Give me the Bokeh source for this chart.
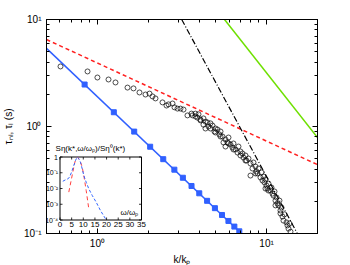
from bokeh.plotting import figure
from bokeh.models import Range1d, LogAxis, FixedTicker, LinearScale, LogScale, Label
from bokeh.embed import file_html
from bokeh.resources import INLINE

# ---------------- data ----------------
K_OBS = [0.605, 0.874, 1.00, 1.163, 1.279, 1.506, 1.634, 1.773, 1.924, 2.032, 2.117, 2.204,
         2.425, 2.561, 2.632, 2.779, 2.855, 2.974, 3.098, 3.227, 3.407, 3.598, 3.800, 3.958,
         4.068, 4.237, 4.474, 4.660,
         3.648, 3.800, 3.905, 4.068, 4.237, 4.354, 4.535, 4.660, 4.789, 4.921, 4.989, 5.127,
         5.268, 5.341, 5.488, 5.563, 5.716, 5.874, 5.954, 6.118, 6.287, 6.373, 6.548, 6.730,
         6.822, 7.010, 7.203, 7.302, 7.503, 7.607, 7.816, 8.032, 8.032, 8.253, 8.368, 8.597,
         8.717, 8.837, 8.959, 9.205, 9.331, 9.459, 9.590, 9.721, 9.854, 9.989, 10.13, 10.26,
         10.55, 10.69, 10.84, 10.99, 11.14, 11.29, 11.45, 11.60, 11.76, 11.92, 12.08, 12.08,
         12.25, 12.42, 12.59, 12.76, 13.11, 13.29, 13.48, 13.66, 13.85,
         4.354, 5.716, 5.954, 6.373, 7.010, 7.503, 8.597, 9.854, 10.26, 11.29, 5.341, 4.989]
TAU_OBS = [3.64, 3.27, 2.87, 2.75, 2.58, 2.31, 2.27, 2.08, 1.99, 2.03, 1.91, 1.83,
           1.68, 1.57, 1.61, 1.64, 1.51, 1.47, 1.47, 1.44, 1.27, 1.32, 1.24, 1.30,
           1.14, 1.19, 1.09, 1.07,
           1.27, 1.32, 1.21, 1.16, 1.04, 1.11, 1.00, 0.958, 1.02, 0.898, 0.879, 0.937,
           0.842, 0.898, 0.806, 0.709, 0.756, 0.709, 0.789, 0.679, 0.636, 0.694, 0.610, 0.571,
           0.650, 0.584, 0.559, 0.513, 0.536, 0.481, 0.502, 0.451, 0.348, 0.405, 0.461, 0.423,
           0.380, 0.364, 0.405, 0.334, 0.372, 0.313, 0.341, 0.300, 0.320, 0.281, 0.263, 0.293,
           0.252, 0.269, 0.236, 0.226, 0.247, 0.203, 0.217, 0.191, 0.183, 0.203, 0.164, 0.154,
           0.175, 0.144, 0.132, 0.151, 0.127, 0.119, 0.111, 0.124, 0.104,
           0.958, 0.650, 0.694, 0.610, 0.536, 0.481, 0.364, 0.263, 0.252, 0.183, 0.806, 0.958]

K_LIN = [0.84, 1.25, 1.65, 2.05, 2.45, 2.85, 3.2, 3.6, 4.0, 4.45, 4.95, 5.45, 5.95, 6.45, 6.9]
TAU_LIN = [2.468, 1.359, 0.896, 0.647, 0.495, 0.395, 0.332, 0.278, 0.2375, 0.202, 0.1725,
           0.149, 0.131, 0.116, 0.1048]
K_LIN_FIT = [0.5, 7.1]
TAU_LIN_FIT = [5.37, 0.1]

K_RED = [0.5, 20.0]
TAU_RED = [6.5, 0.44]
K_BLACK = [3.15, 15.2]
TAU_BLACK = [10.0, 0.1]
K_GREEN = [5.64, 20.0]
TAU_GREEN = [10.0, 0.79]

# inset spectrum
W_BLUE = [1.2, 2.36, 3.52, 4.21, 4.94, 5.93, 6.66, 7.39, 8.07, 8.80, 9.53, 10.22, 11.25,
          12.37, 13.83, 15.54, 17.39, 19.54]
S_BLUE = [0.0288, 0.0355, 0.0417, 0.0575, 0.107, 0.288, 0.603, 1.0, 0.776, 0.468, 0.178,
          0.0676, 0.0251, 0.00955, 0.00363, 0.00135, 0.000398, 0.000120]
W_RED = [3.78, 4.94, 5.93, 6.4, 6.96, 7.64, 8.80, 9.5, 10.22, 11.25, 12.37]
S_RED = [0.00589, 0.0417, 0.224, 0.48, 0.776, 0.977, 0.468, 0.24, 0.0676, 0.00741, 0.000513]

# ticks
X_MAJOR = [1, 10]
X_MINOR = [0.5, 0.6, 0.7, 0.8, 0.9, 2, 3, 4, 5, 6, 7, 8, 9, 20]
X_LABELS = {1: "10\u2070", 10: "10\u00b9"}
Y_MAJOR = [0.1, 1, 10]
Y_MINOR = [0.2, 0.3, 0.4, 0.5, 0.6, 0.7, 0.8, 0.9, 2, 3, 4, 5, 6, 7, 8, 9]
Y_LABELS = {0.1: "10\u207b\u00b9", 1: "10\u2070", 10: "10\u00b9"}
IW_TICKS = [0, 5, 10, 15, 20, 25, 30, 35]
IS_TICKS = [1e-4, 1e-3, 1e-2, 1e-1, 1]
IS_LABELS = ["10\u207b\u2074", "10\u207b\u00b3", "10\u207b\u00b2", "10\u207b\u00b9", "1"]

# ---------------- layout ----------------
FW, FH = 271, 214
FONT = "Liberation Sans"

p = figure(x_axis_type="log", y_axis_type="log",
           x_range=Range1d(0.5, 20), y_range=Range1d(0.1, 10),
           frame_width=FW, frame_height=FH,
           min_border_left=46, min_border_right=20, min_border_top=19, min_border_bottom=32,
           output_backend="svg", toolbar_location=None)
p.grid.visible = False
p.outline_line_color = "black"
p.background_fill_color = "white"
p.border_fill_color = "white"

xt = FixedTicker(ticks=X_MAJOR, minor_ticks=X_MINOR)
yt = FixedTicker(ticks=Y_MAJOR, minor_ticks=Y_MINOR)


def style(ax):
    ax.axis_line_color = "black"
    ax.major_tick_in = 5
    ax.major_tick_out = 0
    ax.minor_tick_in = 3
    ax.minor_tick_out = 0
    ax.major_tick_line_color = "black"
    ax.minor_tick_line_color = "black"
    ax.major_label_text_font = FONT
    ax.major_label_text_font_size = "10px"
    ax.major_label_text_color = "black"
    ax.axis_label_text_font = FONT
    ax.axis_label_text_font_size = "10px"
    ax.axis_label_text_font_style = "normal"
    ax.axis_label_text_color = "black"


xa = p.xaxis[0]
xa.ticker = xt
xa.major_label_overrides = X_LABELS
xa.axis_label = "k/k\u209a"
style(xa)
xa.major_label_standoff = 4
xa.axis_label_standoff = 2

ya = p.yaxis[0]
ya.ticker = yt
ya.major_label_overrides = Y_LABELS
ya.axis_label = "\u03c4\u2099\u2097, \u03c4\u2097 (s)"
style(ya)
ya.major_label_standoff = 5
ya.axis_label_standoff = 7

ra = LogAxis(ticker=yt, major_label_overrides={t: "" for t in Y_MAJOR})
style(ra)
ra.major_label_standoff = 0
p.add_layout(ra, "right")
ta = LogAxis(ticker=xt, major_label_overrides={t: "" for t in X_MAJOR})
style(ta)
ta.major_label_standoff = 0
p.add_layout(ta, "above")

# ---------------- main curves ----------------
p.line(K_RED, TAU_RED, line_color="#ff2020", line_width=1.5, line_dash="4 3")
p.line(K_BLACK, TAU_BLACK, line_color="black", line_width=1.2, line_dash="6 2 1 2")
p.line(K_GREEN, TAU_GREEN, line_color="#6ee000", line_width=1.5)
p.line(K_LIN_FIT, TAU_LIN_FIT, line_color="#3060ff", line_width=1.5)
p.scatter(K_LIN, TAU_LIN, marker="square", size=5, fill_color="#3060ff", line_color="#3060ff")
p.scatter(K_OBS, TAU_OBS, marker="circle", size=5, fill_color=None, line_color="black",
          line_width=0.7)

# ---------------- inset (own scales inside the same frame) ----------------
# inset box in frame pixels (from frame left / top)
IL, IR, IT, IB = 13.5, 95.0, 137.5, 200.5
IW0, IW1 = 0.0, 35.0
ILOG0, ILOG1 = -4.0, 0.0
wpp = (IW1 - IW0) / (IR - IL)
dpp = (ILOG1 - ILOG0) / (IB - IT)
p.extra_x_ranges = {"ix": Range1d(IW0 - IL * wpp, IW1 + (FW - IR) * wpp)}
p.extra_x_scales = {"ix": LinearScale()}
p.extra_y_ranges = {"iy": Range1d(10 ** (ILOG0 - (FH - IB) * dpp), 10 ** (ILOG1 + IT * dpp))}
p.extra_y_scales = {"iy": LogScale()}
kw = dict(x_range_name="ix", y_range_name="iy")

smin, smax = 10 ** ILOG0, 10 ** ILOG1
p.quad(left=[IW0], right=[IW1], bottom=[smin], top=[smax], fill_color="white",
       line_color="black", line_width=1, **kw)
tl = 2.5
p.segment(x0=IW_TICKS, x1=IW_TICKS, y0=[smin] * 8, y1=[smin * 10 ** (tl * dpp)] * 8,
          line_color="black", line_width=0.8, **kw)
p.segment(x0=IW_TICKS, x1=IW_TICKS, y0=[smax] * 8, y1=[smax * 10 ** (-tl * dpp)] * 8,
          line_color="black", line_width=0.8, **kw)
p.segment(x0=[IW0] * 5, x1=[IW0 + tl * wpp] * 5, y0=IS_TICKS, y1=IS_TICKS,
          line_color="black", line_width=0.8, **kw)
p.segment(x0=[IW1] * 5, x1=[IW1 - tl * wpp] * 5, y0=IS_TICKS, y1=IS_TICKS,
          line_color="black", line_width=0.8, **kw)

p.line(W_RED, S_RED, line_color="#ff4040", line_width=1, line_dash="4 3", **kw)
p.line(W_BLUE, S_BLUE, line_color="#3366ff", line_width=1, line_dash="3 2", **kw)

p.text(x=IW_TICKS, y=[smin] * 8, text=[str(t) for t in IW_TICKS], y_offset=2,
       text_align="center", text_baseline="top", text_font_size="8px",
       text_color="black", text_font={"value": FONT}, **kw)
p.text(x=[IW0] * 5, y=IS_TICKS, text=IS_LABELS, x_offset=-2,
       text_align="right", text_baseline="middle", text_font_size="7px",
       text_color="black", text_font={"value": FONT}, **kw)
p.add_layout(Label(x=IW0 - 1.9, y=3.4, text="S\u03b7(k*,\u03c9/\u03c9\u209a)/S\u03b7\u2070(k*)",
                   text_font=FONT, text_font_size="8px", text_baseline="middle",
                   text_align="left", text_color="black", **kw))
p.add_layout(Label(x=26, y=3.0e-4, text="\u03c9/\u03c9\u209a", text_font=FONT,
                   text_font_size="8px", text_baseline="middle", text_align="left",
                   text_color="black", **kw))

open("out.html", "w").write(file_html(p, INLINE))
